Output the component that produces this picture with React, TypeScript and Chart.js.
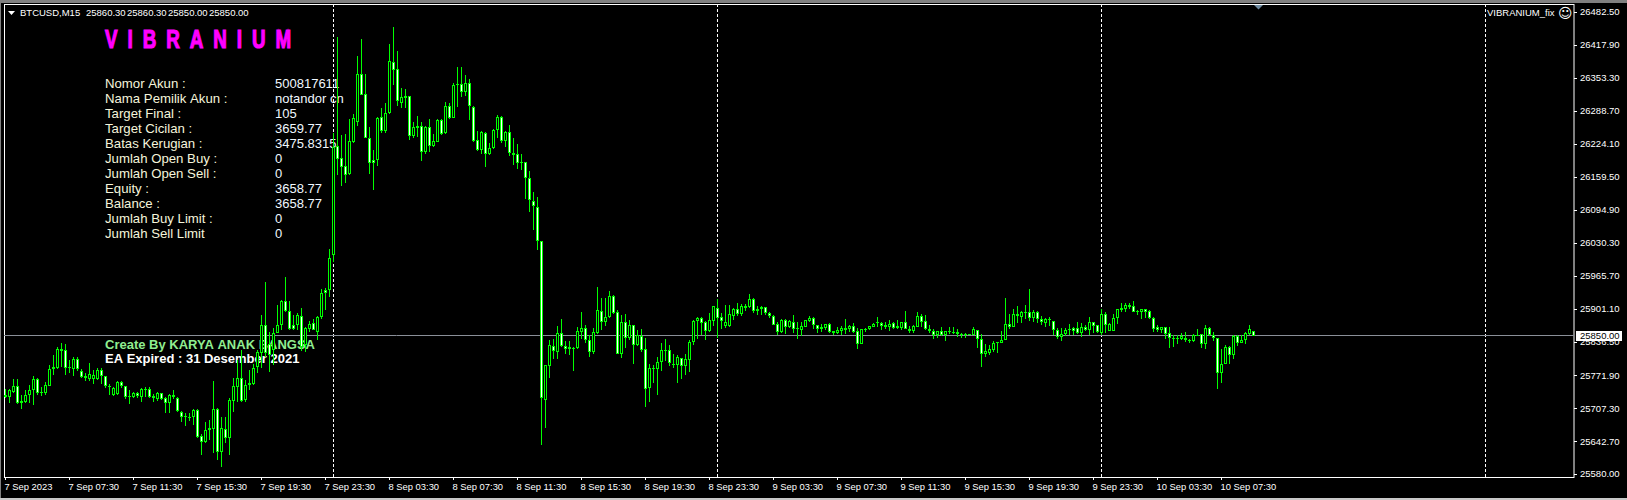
import React, { useEffect, useRef } from "react";
import { Chart, registerables } from "chart.js";

Chart.register(...registerables);

const highs = [
25747,25747,25765,25765,25734,25744,25755,25772,25767,25751,
25760,25793,25813,25829,25837,25835,25803,25809,25809,25785,
25777,25798,25783,25787,25787,25772,25756,25751,25762,25762,
25753,25744,25741,25741,25749,25751,25751,25736,25741,25739,
25731,25736,25744,25731,25704,25700,25699,25708,25708,25658,
25682,25685,25762,25710,25692,25692,25728,25767,25803,25822,
25764,25783,25796,25822,25891,25955,25858,25865,25910,25920,
25965,25919,25891,25894,25904,25868,25880,25884,25890,25941,
25944,26021,26246,26434,26243,26245,26274,26285,26398,26431,
26362,26259,26214,26279,26295,26305,26421,26454,26407,26334,
26332,26319,26268,26280,26269,26261,26274,26245,26274,26275,
26308,26306,26344,26376,26376,26360,26352,26300,26250,26251,
26248,26227,26255,26282,26280,26251,26262,26237,26225,26205,
26191,26173,26132,26122,26036,25794,25842,25844,25869,25883,
25841,25840,25829,25867,25897,25871,25852,25865,25946,25924,
25924,25938,25930,25901,25891,25892,25881,25871,25862,25863,
25846,25796,25794,25809,25837,25844,25832,25815,25813,25807,
25815,25843,25882,25888,25888,25879,25894,25908,25923,25894,
25910,25910,25905,25914,25912,25912,25932,25925,25908,25909,
25907,25897,25891,25878,25884,25884,25881,25891,25877,25877,
25882,25889,25888,25871,25873,25873,25875,25860,25867,25869,
25883,25872,25875,25865,25864,25866,25869,25875,25887,25877,
25877,25881,25877,25882,25878,25899,25869,25871,25896,25892,
25891,25871,25863,25860,25867,25860,25867,25867,25863,25856,
25856,25853,25867,25862,25853,25834,25832,25841,25839,25860,
25924,25893,25903,25909,25898,25911,25942,25901,25899,25889,
25886,25887,25879,25865,25865,25866,25873,25868,25877,25875,
25871,25887,25878,25871,25902,25896,25875,25893,25903,25915,
25914,25915,25918,25901,25903,25903,25901,25887,25871,25868,
25868,25867,25852,25852,25855,25858,25844,25853,25864,25854,
25871,25868,25857,25847,25824,25832,25830,25851,25851,25851,25858,25871,25860.3,
];

const lows = [
25728,25718,25738,25717,25708,25719,25718,25715,25734,25732,
25734,25752,25773,25786,25790,25773,25778,25772,25782,25767,
25762,25762,25757,25764,25757,25749,25734,25732,25734,25749,
25727,25716,25728,25728,25721,25731,25728,25721,25723,25725,
25699,25700,25727,25702,25682,25674,25684,25676,25650,25617,
25640,25646,25622,25607,25594,25640,25617,25702,25721,25721,
25721,25744,25754,25777,25787,25809,25780,25793,25855,25862,
25897,25862,25862,25862,25821,25819,25858,25862,25843,25884,
25901,25927,25995,26165,26144,26149,26165,26228,26261,26321,
26237,26167,26135,26183,26246,26246,26285,26341,26300,26296,
26296,26233,26238,26240,26192,26205,26210,26220,26229,26243,
26245,26274,26276,26297,26317,26319,26272,26230,26212,26206,
26181,26204,26216,26237,26228,26220,26201,26184,26177,26175,
26117,26093,26057,26019,25637,25670,25768,25805,25805,25829,
25815,25813,25782,25824,25845,25837,25809,25815,25854,25862,
25869,25886,25893,25815,25807,25826,25842,25795,25831,25819,
25712,25721,25759,25734,25781,25802,25791,25787,25758,25766,
25773,25779,25832,25844,25851,25842,25858,25869,25847,25863,
25865,25868,25882,25890,25890,25899,25904,25894,25891,25891,
25891,25886,25871,25851,25856,25854,25865,25855,25844,25850,
25867,25877,25863,25855,25857,25862,25855,25851,25854,25851,
25854,25858,25855,25824,25834,25858,25862,25867,25867,25862,
25864,25860,25863,25863,25862,25863,25855,25855,25867,25867,
25862,25855,25844,25847,25849,25841,25854,25854,25848,25847,
25847,25851,25851,25826,25790,25809,25812,25819,25817,25836,
25842,25864,25868,25875,25876,25884,25880,25878,25875,25871,
25868,25869,25851,25845,25840,25849,25851,25851,25853,25848,
25859,25852,25855,25856,25851,25855,25860,25860,25873,25896,
25897,25902,25896,25891,25883,25886,25883,25857,25857,25855,
25845,25826,25828,25834,25842,25839,25836,25839,25850,25826,
25825,25850,25841,25746,25759,25795,25796,25804,25830,25836,25834,25852,25850,
];

const opens = [
25734,25730,25741,25752,25723,25721,25734,25745,25765,25740,
25739,25753,25786,25788,25824,25822,25790,25786,25804,25782,
25772,25766,25766,25766,25783,25772,25753,25734,25736,25760,
25752,25732,25730,25738,25730,25747,25747,25733,25727,25738,
25728,25718,25734,25728,25702,25693,25692,25692,25706,25655,
25643,25670,25669,25708,25623,25669,25650,25723,25751,25767,
25725,25759,25757,25790,25816,25871,25835,25822,25856,25871,
25918,25899,25871,25871,25890,25832,25864,25875,25858,25888,
25940,25939,26008,26222,26199,26182,26166,26230,26269,26362,
26323,26238,26195,26195,26278,26250,26287,26385,26373,26306,
26319,26319,26242,26260,26261,26210,26258,26222,26230,26272,
26246,26299,26277,26342,26342,26328,26344,26297,26233,26214,
26246,26205,26217,26252,26278,26232,26248,26207,26205,26190,
26190,26158,26113,26103,26036,25725,25792,25831,25819,25855,
25831,25828,25827,25827,25858,25865,25843,25819,25856,25898,
25878,25888,25929,25896,25815,25877,25847,25871,25833,25850,
25824,25749,25787,25786,25800,25822,25822,25796,25793,25806,
25792,25803,25839,25880,25886,25877,25860,25880,25904,25888,
25869,25870,25890,25902,25892,25905,25906,25923,25902,25902,
25906,25894,25890,25873,25858,25882,25867,25878,25865,25862,
25868,25880,25886,25871,25867,25866,25873,25860,25856,25860,
25865,25864,25869,25859,25835,25862,25863,25868,25875,25876,
25871,25868,25875,25865,25866,25877,25863,25860,25868,25890,
25879,25863,25860,25852,25859,25852,25858,25858,25857,25853,
25851,25853,25852,25861,25844,25815,25817,25823,25836,25837,
25843,25873,25868,25893,25888,25895,25896,25886,25896,25884,
25875,25883,25879,25861,25848,25854,25863,25866,25865,25856,
25867,25862,25877,25871,25856,25892,25860,25860,25886,25901,
25903,25907,25908,25899,25896,25902,25898,25886,25867,25862,
25867,25855,25847,25846,25844,25847,25843,25841,25851,25853,
25834,25865,25852,25846,25778,25796,25828,25813,25850,25837,25843,25854,25860.3,
];

const closes = [
25730,25744,25752,25719,25719,25734,25745,25765,25738,25738,
25754,25786,25789,25824,25821,25788,25787,25804,25785,25770,
25768,25775,25774,25784,25772,25752,25750,25748,25760,25752,
25730,25730,25738,25732,25746,25745,25731,25729,25738,25727,
25718,25734,25730,25704,25691,25691,25690,25706,25653,25643,
25667,25667,25708,25623,25670,25650,25725,25753,25767,25723,
25755,25755,25788,25819,25871,25816,25813,25856,25871,25918,
25899,25864,25864,25891,25829,25865,25873,25862,25888,25935,
25935,26002,26220,26197,26181,26165,26231,26276,26362,26322,
26238,26189,26189,26276,26250,26287,26387,26371,26310,26317,
26316,26242,26258,26257,26210,26258,26222,26231,26272,26245,
26299,26277,26340,26340,26328,26344,26300,26232,26214,26248,
26205,26217,26252,26278,26232,26248,26207,26204,26189,26189,
26158,26115,26105,26036,25728,25794,25833,25821,25855,25831,
25825,25825,25826,25859,25865,25843,25819,25857,25900,25878,
25888,25929,25895,25815,25877,25847,25871,25833,25851,25822,
25747,25787,25786,25800,25822,25821,25797,25795,25808,25792,
25804,25839,25880,25886,25876,25860,25882,25908,25886,25879,
25878,25892,25902,25892,25908,25908,25923,25899,25899,25906,
25895,25890,25872,25858,25882,25867,25879,25863,25863,25869,
25881,25886,25872,25864,25864,25873,25858,25856,25861,25865,
25862,25869,25858,25835,25863,25863,25869,25874,25877,25870,
25867,25874,25865,25869,25877,25864,25860,25869,25890,25877,
25864,25860,25852,25859,25852,25859,25860,25856,25853,25851,
25853,25852,25863,25845,25815,25820,25824,25836,25838,25843,
25873,25868,25893,25890,25896,25896,25886,25897,25883,25878,
25883,25881,25862,25848,25854,25862,25862,25860,25855,25867,
25862,25877,25870,25858,25892,25872,25873,25886,25902,25905,
25910,25910,25897,25896,25902,25897,25885,25864,25862,25867,
25854,25846,25845,25845,25850,25842,25840,25851,25852,25835,
25865,25852,25847,25778,25796,25828,25813,25850,25836,25843,25855,25863,25850,
];

const lastPrice = 25850;
const priceTicks = [26482.5,26417.9,26353.3,26288.7,26224.1,26159.5,26094.9,26030.3,25965.7,25901.1,25836.5,25771.9,25707.3,25642.7,25580];
const timeLabels = ["7 Sep 2023","7 Sep 07:30","7 Sep 11:30","7 Sep 15:30","7 Sep 19:30","7 Sep 23:30","8 Sep 03:30","8 Sep 07:30","8 Sep 11:30","8 Sep 15:30","8 Sep 19:30","8 Sep 23:30","9 Sep 03:30","9 Sep 07:30","9 Sep 11:30","9 Sep 15:30","9 Sep 19:30","9 Sep 23:30","10 Sep 03:30","10 Sep 07:30"];
const separators = [82,178,274,370];
const infoLabels = ["Nomor Akun :","Nama Pemilik Akun :","Target Final :","Target Cicilan :","Batas Kerugian :","Jumlah Open Buy :","Jumlah Open Sell :","Equity :","Balance :","Jumlah Buy Limit :","Jumlah Sell Limit"];
const infoValues = ["500817611","notandor cn","105","3659.77","3475.8315","0","0","3658.77","3658.77","0","0"];
const quotes = ["25860.30","25860.30","25850.00","25850.00"];

const BARS_SHOWN = 392.5;
const FIRST_BAR = -0.375;
const GREEN = "#00FF00";

const overlay = {
  id: "overlay",
  afterDatasetsUpdate(chart: any) {
    for (const el of chart.getDatasetMeta(0).data as any[]) {
      el.y = Math.floor(el.y) + 0.5;
    }
    for (const idx of [1, 2]) {
      for (const el of chart.getDatasetMeta(idx).data as any[]) {
        const a = Math.round(el.y), b = Math.round(el.base);
        el.y = a;
        el.base = a === b ? a + 1 : b;
      }
    }
  },
  beforeDatasetsDraw(chart: any) {
    const c = chart.ctx;
    const { left, right, top, bottom } = chart.chartArea;
    c.save();
    c.textBaseline = "middle";
    c.textAlign = "left";
    c.save();
    c.fillStyle = "#FF00FF";
    c.strokeStyle = "#FF00FF";
    c.lineWidth = 1.2;
    c.font = 'bold 25px "Liberation Sans"';
    c.translate(105, 41.5);
    c.scale(0.75, 1);
    (c as any).letterSpacing = "13.3px";
    c.fillText("VIBRANIUM", 0, 0);
    c.strokeText("VIBRANIUM", 0, 0);
    (c as any).letterSpacing = "0px";
    c.restore();
    infoLabels.forEach((t, i) => {
      c.font = '13.2px "Liberation Sans"';
      c.fillStyle = "#F5F5DC";
      c.fillText(t, 105, 84 + i * 15);
      c.font = '13px "Liberation Sans"';
      c.fillStyle = "#F0F8FF";
      c.fillText(infoValues[i], 275, 84 + i * 15);
    });
    c.font = 'bold 13px "Liberation Sans"';
    c.fillStyle = "#90EE90";
    c.fillText("Create By KARYA ANAK BANGSA", 105, 345);
    c.fillStyle = "#FFFFFF";
    c.fillText("EA Expired : 31 Desember 2021", 105, 359.5);
    c.restore();
    c.save();
    c.strokeStyle = "#FFFFFF";
    c.lineWidth = 1;
    c.strokeRect(left + 0.5, top + 0.5, right - left - 0.5, bottom - top);
    c.restore();
  },
  afterDraw(chart: any) {
    const c = chart.ctx;
    c.save();
    c.fillStyle = "#808080";
    c.fillRect(0, 0, 1627, 3);
    c.fillRect(0, 0, 1, 500);
    c.fillStyle = "#C8C8C8";
    c.fillRect(0, 498, 1627, 2);
    c.textBaseline = "middle";
    c.textAlign = "left";
    c.font = '9.5px "Liberation Sans"';
    c.fillStyle = "#FFFFFF";
    c.beginPath();
    c.moveTo(8, 11);
    c.lineTo(15, 11);
    c.lineTo(11.5, 15);
    c.closePath();
    c.fill();
    c.fillText("BTCUSD,M15", 20, 13.5);
    quotes.forEach((q, i) => c.fillText(q, 86 + i * 41, 13.5));
    c.fillText("VIBRANIUM_fix", 1487, 13.5);
    c.font = '14px "DejaVu Sans"';
    c.fillText("\u263A", 1558, 14.5);
    const y = chart.scales.y.getPixelForValue(lastPrice);
    c.fillStyle = "#FFFFFF";
    c.fillRect(1576, Math.round(y) - 5, 46, 10);
    c.fillStyle = "#000000";
    c.font = '9.5px "Liberation Sans"';
    c.fillText(lastPrice.toFixed(2), 1580, Math.round(y) + 0.5);
    c.fillStyle = "#6E8AA0";
    c.beginPath();
    c.moveTo(1254, 5);
    c.lineTo(1263, 5);
    c.lineTo(1258.5, 9.5);
    c.closePath();
    c.fill();
    c.restore();
  },
};

export default function App() {
  const ref = useRef<HTMLCanvasElement>(null);
  useEffect(() => {
    document.body.style.margin = "0";
    document.body.style.background = "#000";
    const canvas = ref.current!;
    canvas.getContext("2d", { alpha: false });
    const xIdx = highs.map((_, i) => i);
    const chart = new Chart(canvas, {
      type: "bar",
      data: {
        datasets: [
          {
            type: "line",
            data: [
              { x: FIRST_BAR, y: lastPrice },
              { x: FIRST_BAR + BARS_SHOWN, y: lastPrice },
            ],
            borderColor: "#8A8F98",
            borderWidth: 1,
            pointRadius: 0,
            order: 3,
          },
          {
            data: xIdx.map((i) => ({ x: i, y: [lows[i], highs[i]] })),
            backgroundColor: GREEN,
            borderWidth: 0,
            barThickness: 1,
            grouped: false,
            inflateAmount: 0,
            order: 2,
          },
          {
            data: xIdx.map((i) => ({ x: i, y: [opens[i], closes[i]] })),
            backgroundColor: (ctx: any) => (closes[ctx.dataIndex] < opens[ctx.dataIndex] ? "#FFFFFF" : "#000000"),
            borderColor: GREEN,
            borderWidth: 1,
            borderSkipped: false,
            barThickness: 3,
            grouped: false,
            inflateAmount: 0,
            order: 1,
          },
        ] as any,
      },
      options: {
        responsive: false,
        animation: false,
        events: [],
        layout: { padding: { left: 4, top: 4, right: 0, bottom: 0 } },
        plugins: { legend: { display: false }, tooltip: { enabled: false }, title: { display: false } },
        scales: {
          x: {
            type: "linear",
            offset: false,
            min: FIRST_BAR,
            max: FIRST_BAR + BARS_SHOWN,
            afterBuildTicks: (s: any) => {
              const tickAt = timeLabels.map((_, i) => i * 16);
              s.ticks = [...tickAt, ...separators].sort((a, b) => a - b).map((value) => ({ value }));
            },
            afterFit: (s: any) => {
              s.height = 23;
              s.paddingLeft = 0;
              s.paddingRight = 0;
            },
            grid: {
              offset: false,
              color: (ctx: any) => (separators.includes(ctx.tick?.value) ? "#FFFFFF" : "rgba(0,0,0,0)"),
              tickColor: (ctx: any) => (ctx.tick?.value % 16 === 0 ? "#FFFFFF" : "rgba(0,0,0,0)"),
              tickLength: 3,
              lineWidth: 1,
            },
            border: { display: false, dash: [3, 2] },
            ticks: {
              autoSkip: false,
              maxRotation: 0,
              minRotation: 0,
              align: "start",
              padding: 2,
              labelOffset: -1,
              color: "#FFFFFF",
              font: { family: '"Liberation Sans"', size: 9.4 },
              callback: (v: any) => (v % 16 === 0 ? timeLabels[v / 16] : ""),
            },
          },
          y: {
            type: "linear",
            position: "right",
            min: 25574.2,
            max: 26499.2,
            afterBuildTicks: (s: any) => {
              s.ticks = priceTicks.map((value) => ({ value }));
            },
            afterFit: (s: any) => {
              s.width = 53;
              s.paddingTop = 0;
              s.paddingBottom = 0;
            },
            grid: { drawOnChartArea: false, tickColor: "#FFFFFF", tickLength: 3, lineWidth: 1 },
            border: { display: false },
            ticks: {
              autoSkip: false,
              padding: 3,
              color: "#FFFFFF",
              font: { family: '"Liberation Sans"', size: 9.5 },
              callback: (v: any) => Number(v).toFixed(2),
            },
          },
        },
      },
      plugins: [overlay],
    } as any);
    return () => chart.destroy();
  }, []);
  return <canvas ref={ref} width={1627} height={500} style={{ display: "block", width: 1627, height: 500 }} />;
}
